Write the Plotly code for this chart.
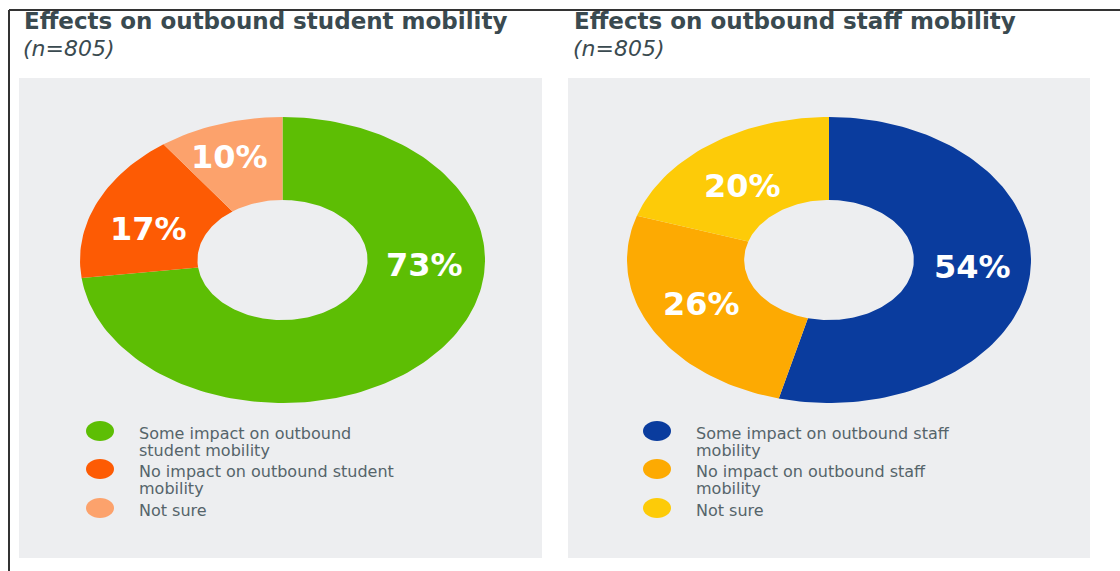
import numpy as np
import plotly.graph_objects as go

W, H = 1120, 571

# ---- data ----
student_titles = ["Effects on outbound student mobility", "(n=805)"]
student_labels = [
    ["Some impact on outbound", "student mobility"],
    ["No impact on outbound student", "mobility"],
    ["Not sure"],
]
student_values = [73, 17, 10]
student_colors = ["#5dbe04", "#fd5b04", "#fca26c"]

staff_titles = ["Effects on outbound staff mobility", "(n=805)"]
staff_labels = [
    ["Some impact on outbound staff", "mobility"],
    ["No impact on outbound staff", "mobility"],
    ["Not sure"],
]
staff_values = [54, 26, 20]
staff_colors = ["#0a3c9e", "#fdaa02", "#fdcb08"]

HOLE = 0.42


def px(x):
    return x / W


def py(y):
    return 1 - y / H


def wedge(start_frac, end_frac, hole=HOLE, n=240):
    """Ring segment on a unit circle, clockwise from 12 o'clock."""
    k = max(8, int(n * (end_frac - start_frac)))
    t = np.linspace(start_frac, end_frac, k) * 2 * np.pi
    xo, yo = np.sin(t), np.cos(t)
    xi, yi = hole * np.sin(t[::-1]), hole * np.cos(t[::-1])
    xs = np.concatenate([xo, xi, xo[:1]])
    ys = np.concatenate([yo, yi, yo[:1]])
    return xs, ys


fig = go.Figure()

panels = [
    dict(values=student_values, colors=student_colors, labels=student_labels,
         titles=student_titles, xa="x", ya="y",
         label_pos=[(0.70, -0.035), (-0.66, 0.22), (-0.26, 0.72)],
         panel=(19, 542), title_x=22, legend_mx=100, legend_tx=137),
    dict(values=staff_values, colors=staff_colors, labels=staff_labels,
         titles=staff_titles, xa="x2", ya="y2",
         label_pos=[(0.71, -0.05), (-0.63, -0.31), (-0.43, 0.52)],
         panel=(568, 1090), title_x=572, legend_mx=657, legend_tx=694),
]

shapes = []
annotations = []

for p in panels:
    # grey card behind each chart
    shapes.append(dict(type="rect", xref="paper", yref="paper",
                       x0=px(p["panel"][0]), x1=px(p["panel"][1]),
                       y0=py(558), y1=py(78),
                       fillcolor="#edeef0", line=dict(width=0), layer="below"))

    total = sum(p["values"])
    cum = 0
    for v, c in zip(p["values"], p["colors"]):
        xs, ys = wedge(cum / total, (cum + v) / total)
        cum += v
        fig.add_trace(go.Scatter(x=xs, y=ys, xaxis=p["xa"], yaxis=p["ya"],
                                 mode="lines", fill="toself", fillcolor=c,
                                 line=dict(width=0, color=c),
                                 hoverinfo="skip", showlegend=False))

    for v, (lx, ly) in zip(p["values"], p["label_pos"]):
        annotations.append(dict(x=lx, y=ly, xref=p["xa"], yref=p["ya"],
                                text=f"{v}%", showarrow=False,
                                font=dict(family="DejaVu Sans", size=32,
                                          color="white", weight="bold")))

    # titles
    annotations.append(dict(x=px(p["title_x"]), y=py(21), xref="paper", yref="paper",
                            xanchor="left", yanchor="middle", showarrow=False,
                            text=f"<b>{p['titles'][0]}</b>",
                            font=dict(family="DejaVu Sans", size=23, color="#3a4a50")))
    annotations.append(dict(x=px(p["title_x"] - 1), y=py(49), xref="paper", yref="paper",
                            xanchor="left", yanchor="middle", showarrow=False,
                            text=f"<i>{p['titles'][1]}</i>",
                            font=dict(family="DejaVu Sans", size=22, color="#3a4a50")))

    # legend: elliptical swatches and wrapped labels
    marker_y = [431, 469, 508]
    for (lines, c, my) in zip(p["labels"], p["colors"], marker_y):
        mx = p["legend_mx"]
        shapes.append(dict(type="circle", xref="paper", yref="paper",
                           x0=px(mx - 14), x1=px(mx + 14),
                           y0=py(my + 10), y1=py(my - 10),
                           fillcolor=c, line=dict(width=0)))
        for i, line in enumerate(lines):
            annotations.append(dict(x=px(p["legend_tx"]), y=py(my + 2 + 17 * i),
                                    xref="paper", yref="paper",
                                    xanchor="left", yanchor="middle", showarrow=False,
                                    text=line,
                                    font=dict(family="DejaVu Sans", size=16,
                                              color="#55646a")))

# outer frame (top and left rules)
shapes.append(dict(type="line", xref="paper", yref="paper",
                   x0=px(9), x1=1, y0=py(10), y1=py(10),
                   line=dict(color="#333333", width=2)))
shapes.append(dict(type="line", xref="paper", yref="paper",
                   x0=px(9), x1=px(9), y0=0, y1=py(10),
                   line=dict(color="#333333", width=2)))

ax_common = dict(range=[-1, 1], visible=False, fixedrange=True)
fig.update_layout(
    width=W, height=H,
    margin=dict(l=0, r=0, t=0, b=0),
    paper_bgcolor="white", plot_bgcolor="rgba(0,0,0,0)",
    xaxis=dict(domain=[px(80), px(485)], **ax_common),
    yaxis=dict(domain=[py(403), py(117)], **ax_common),
    xaxis2=dict(domain=[px(627), px(1031)], anchor="y2", **ax_common),
    yaxis2=dict(domain=[py(403), py(117)], anchor="x2", **ax_common),
    shapes=shapes,
    annotations=annotations,
    showlegend=False,
)

fig.write_html("out.html", config={"displayModeBar": False})
